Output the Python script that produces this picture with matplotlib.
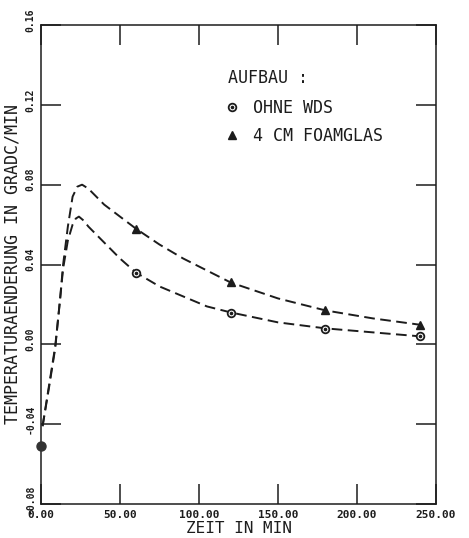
import numpy as np
import matplotlib.pyplot as plt
import matplotlib.transforms as mtransforms
from matplotlib.lines import Line2D

# curve (dashed lines)
tri_curve_x = [1, 5, 9, 12, 14, 17, 20, 23, 26, 30, 35, 40, 50, 60, 75, 90, 105, 120, 150, 180, 210, 240]
tri_curve_y = [-0.041, -0.022, -0.002, 0.022, 0.040, 0.059, 0.074, 0.079, 0.080, 0.078, 0.074, 0.070,
               0.064, 0.058, 0.050, 0.043, 0.037, 0.031, 0.023, 0.017, 0.013, 0.0098]
circ_curve_x = [1, 5, 9, 12, 14, 17, 20, 22, 24, 27, 30, 35, 40, 50, 60, 75, 90, 105, 120, 150, 180, 210, 240]
circ_curve_y = [-0.041, -0.021, -0.001, 0.022, 0.038, 0.052, 0.060, 0.063, 0.064, 0.062, 0.059, 0.055,
                0.051, 0.043, 0.036, 0.029, 0.024, 0.019, 0.016, 0.011, 0.008, 0.006, 0.004]

# measured points
zeit = [60, 120, 180, 240]
ohne_wds = [0.0355, 0.0158, 0.0078, 0.0040]
foamglas = [0.058, 0.0314, 0.017, 0.0098]
start_x = [0]
start_y = [-0.051]

xticks = [0, 50, 100, 150, 200, 250]
yticks = [-0.08, -0.04, 0.00, 0.04, 0.08, 0.12, 0.16]

ink = '#1c1c1c'
mono = 'DejaVu Sans Mono'

fig = plt.figure(figsize=(4.69, 5.38), dpi=100)
ax = fig.add_axes([41 / 469, 1 - 504 / 538, 395 / 469, 479 / 538])

ax.plot(tri_curve_x, tri_curve_y, color=ink, lw=1.4, dashes=(5.5, 2.8))
ax.plot(circ_curve_x, circ_curve_y, color=ink, lw=1.4, dashes=(5.5, 2.8))

ax.plot(zeit, foamglas, ls='none', marker='^', ms=5.5, color=ink)
ax.plot(zeit, ohne_wds, ls='none', marker='o', ms=5.5, mfc='white', mec=ink, mew=1.3)
ax.plot(zeit, ohne_wds, ls='none', marker='o', ms=1.6, color=ink)
ax.plot(start_x, start_y, ls='none', marker='o', ms=6.5, color='#333333', clip_on=False, zorder=5)

ax.set_xlim(0, 250)
ax.set_ylim(-0.08, 0.16)
ax.set_xticks(xticks)
ax.set_xticklabels([f'{v:.2f}' for v in xticks])
ax.set_yticks(yticks)
ax.set_yticklabels([f'{v:.2f}' for v in yticks], rotation=90, va='center')

ax.tick_params(direction='in', length=14.5, width=1.1, color=ink,
               top=True, right=True)
ax.tick_params(axis='x', pad=4.5, labelsize=8)
ax.tick_params(axis='y', pad=4, labelsize=7)
shift_up = mtransforms.ScaledTranslation(0, 5 / 100, fig.dpi_scale_trans)
for lab in ax.get_yticklabels():
    lab.set_transform(lab.get_transform() + shift_up)
for lab in ax.get_xticklabels() + ax.get_yticklabels():
    lab.set_family(mono)
    lab.set_fontweight('bold')
    lab.set_color(ink)
for sp in ax.spines.values():
    sp.set_linewidth(1.1)
    sp.set_color(ink)

ax.set_xlabel('ZEIT IN MIN', family=mono, fontsize=11.5, color=ink, labelpad=0.5)
ax.set_ylabel('TEMPERATURAENDERUNG IN GRADC/MIN', family=mono, fontsize=12, color=ink, labelpad=3)

ax.text(0.474, 0.889, 'AUFBAU :', transform=ax.transAxes, family=mono, fontsize=12,
        color=ink, ha='left', va='center')
h_circ = (Line2D([], [], ls='none', marker='o', ms=5.5, mfc='white', mec=ink, mew=1.3),
          Line2D([], [], ls='none', marker='o', ms=1.6, color=ink))
h_tri = Line2D([], [], ls='none', marker='^', ms=5.5, color=ink)
leg = ax.legend([h_circ, h_tri], ['OHNE WDS', '4 CM FOAMGLAS'],
                loc='upper left', bbox_to_anchor=(0.462, 0.845), frameon=False,
                prop={'family': mono, 'size': 12},
                handlelength=1.0, handletextpad=0.75, labelspacing=0.56,
                borderaxespad=0, borderpad=0)
for t in leg.get_texts():
    t.set_color(ink)

fig.savefig('out.png', dpi=100)
